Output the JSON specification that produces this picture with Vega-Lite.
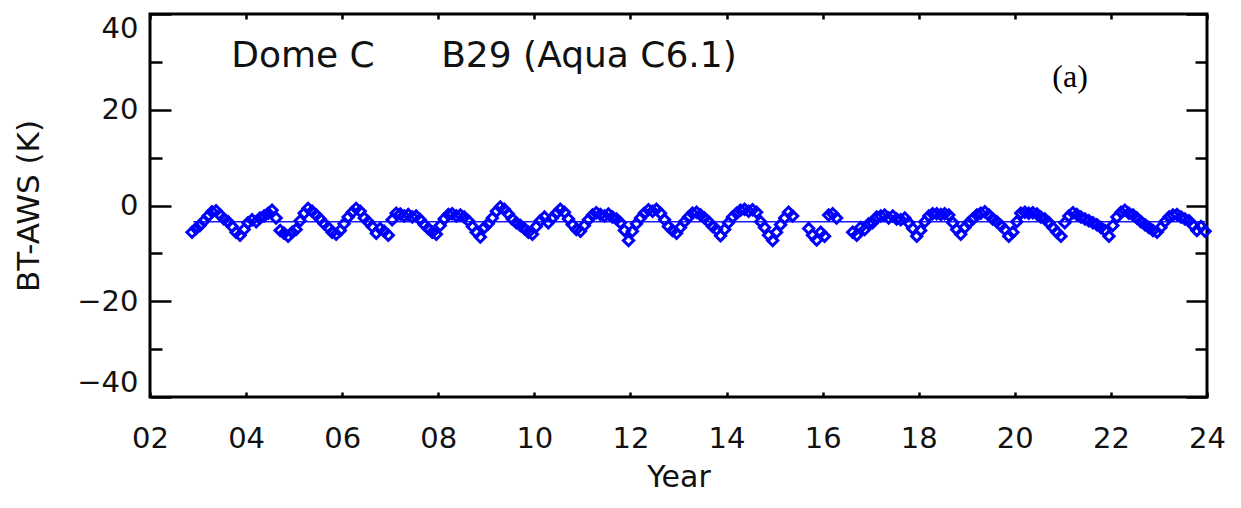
{
  "$schema": "https://vega.github.io/schema/vega-lite/v6.json",
  "autosize": "none",
  "width": 1057,
  "height": 383,
  "padding": {"left": 150, "top": 14, "right": 34, "bottom": 111},
  "background": "white",
  "datasets": {
    "obs": [
      {"t":2002.875,"v":-5.6},{"t":2002.96,"v":-4.8},
      {"t":2003.04,"v":-4.2},{"t":2003.125,"v":-3.2},{"t":2003.21,"v":-2.2},{"t":2003.29,"v":-1.3},{"t":2003.375,"v":-1.1},{"t":2003.46,"v":-2.0},{"t":2003.54,"v":-2.8},{"t":2003.625,"v":-3.4},{"t":2003.71,"v":-4.4},{"t":2003.79,"v":-5.6},{"t":2003.875,"v":-6.2},{"t":2003.96,"v":-5.0},
      {"t":2004.04,"v":-3.6},{"t":2004.125,"v":-3.0},{"t":2004.21,"v":-3.4},{"t":2004.29,"v":-2.6},{"t":2004.375,"v":-2.2},{"t":2004.46,"v":-1.6},{"t":2004.54,"v":-1.0},{"t":2004.625,"v":-2.6},{"t":2004.71,"v":-5.2},{"t":2004.79,"v":-5.8},{"t":2004.875,"v":-6.4},{"t":2004.96,"v":-5.6},
      {"t":2005.04,"v":-5.0},{"t":2005.125,"v":-3.2},{"t":2005.21,"v":-1.6},{"t":2005.29,"v":-0.6},{"t":2005.375,"v":-1.2},{"t":2005.46,"v":-2.0},{"t":2005.54,"v":-2.8},{"t":2005.625,"v":-3.8},{"t":2005.71,"v":-4.6},{"t":2005.79,"v":-5.6},{"t":2005.875,"v":-6.0},{"t":2005.96,"v":-5.2},
      {"t":2006.04,"v":-3.8},{"t":2006.125,"v":-2.4},{"t":2006.21,"v":-1.4},{"t":2006.29,"v":-0.6},{"t":2006.375,"v":-1.2},{"t":2006.46,"v":-2.6},{"t":2006.54,"v":-3.4},{"t":2006.625,"v":-4.4},{"t":2006.71,"v":-5.8},{"t":2006.79,"v":-4.8},{"t":2006.875,"v":-5.4},{"t":2006.96,"v":-6.2},
      {"t":2007.04,"v":-3.0},{"t":2007.125,"v":-1.6},{"t":2007.21,"v":-1.8},{"t":2007.29,"v":-2.2},{"t":2007.375,"v":-1.9},{"t":2007.46,"v":-2.4},{"t":2007.54,"v":-2.2},{"t":2007.625,"v":-3.0},{"t":2007.71,"v":-4.0},{"t":2007.79,"v":-4.8},{"t":2007.875,"v":-5.6},{"t":2007.96,"v":-6.0},
      {"t":2008.04,"v":-4.2},{"t":2008.125,"v":-2.8},{"t":2008.21,"v":-1.9},{"t":2008.29,"v":-1.7},{"t":2008.375,"v":-2.2},{"t":2008.46,"v":-2.0},{"t":2008.54,"v":-2.4},{"t":2008.625,"v":-3.2},{"t":2008.71,"v":-4.4},{"t":2008.79,"v":-5.6},{"t":2008.875,"v":-6.6},{"t":2008.96,"v":-4.6},
      {"t":2009.04,"v":-3.8},{"t":2009.125,"v":-2.6},{"t":2009.21,"v":-1.2},{"t":2009.29,"v":-0.3},{"t":2009.375,"v":-0.8},{"t":2009.46,"v":-1.8},{"t":2009.54,"v":-2.8},{"t":2009.625,"v":-3.6},{"t":2009.71,"v":-4.2},{"t":2009.79,"v":-4.8},{"t":2009.875,"v":-5.6},{"t":2009.96,"v":-6.0},
      {"t":2010.04,"v":-4.4},{"t":2010.125,"v":-3.2},{"t":2010.21,"v":-2.4},{"t":2010.29,"v":-3.6},{"t":2010.375,"v":-2.6},{"t":2010.46,"v":-1.6},{"t":2010.54,"v":-0.8},{"t":2010.625,"v":-1.4},{"t":2010.71,"v":-2.8},{"t":2010.79,"v":-4.0},{"t":2010.875,"v":-5.0},{"t":2010.96,"v":-5.4},
      {"t":2011.04,"v":-4.2},{"t":2011.125,"v":-3.0},{"t":2011.21,"v":-2.0},{"t":2011.29,"v":-1.5},{"t":2011.375,"v":-1.9},{"t":2011.46,"v":-2.2},{"t":2011.54,"v":-1.8},{"t":2011.625,"v":-2.4},{"t":2011.71,"v":-2.8},{"t":2011.79,"v":-3.6},{"t":2011.875,"v":-5.2},{"t":2011.96,"v":-7.3},
      {"t":2012.04,"v":-5.4},{"t":2012.125,"v":-3.8},{"t":2012.21,"v":-2.6},{"t":2012.29,"v":-1.6},{"t":2012.375,"v":-0.9},{"t":2012.46,"v":-1.2},{"t":2012.54,"v":-0.8},{"t":2012.625,"v":-1.6},{"t":2012.71,"v":-3.0},{"t":2012.79,"v":-4.4},{"t":2012.875,"v":-5.2},{"t":2012.96,"v":-5.8},
      {"t":2013.04,"v":-4.6},{"t":2013.125,"v":-3.4},{"t":2013.21,"v":-2.4},{"t":2013.29,"v":-1.6},{"t":2013.375,"v":-1.4},{"t":2013.46,"v":-2.0},{"t":2013.54,"v":-2.6},{"t":2013.625,"v":-3.4},{"t":2013.71,"v":-4.4},{"t":2013.79,"v":-5.0},{"t":2013.875,"v":-6.3},{"t":2013.96,"v":-5.0},
      {"t":2014.04,"v":-3.6},{"t":2014.125,"v":-2.4},{"t":2014.21,"v":-1.6},{"t":2014.29,"v":-1.0},{"t":2014.375,"v":-0.8},{"t":2014.46,"v":-1.2},{"t":2014.54,"v":-0.9},{"t":2014.625,"v":-1.4},{"t":2014.71,"v":-3.4},{"t":2014.79,"v":-4.6},{"t":2014.875,"v":-6.2},{"t":2014.96,"v":-7.3},
      {"t":2015.04,"v":-5.6},{"t":2015.125,"v":-4.0},{"t":2015.21,"v":-2.6},{"t":2015.29,"v":-1.4},{"t":2015.375,"v":-2.2},{"t":2015.71,"v":-4.8},{"t":2015.79,"v":-6.2},{"t":2015.875,"v":-7.2},{"t":2015.96,"v":-5.6},
      {"t":2016.04,"v":-6.4},{"t":2016.125,"v":-2.0},{"t":2016.21,"v":-1.7},{"t":2016.29,"v":-2.6},{"t":2016.625,"v":-5.6},{"t":2016.71,"v":-6.2},{"t":2016.79,"v":-4.6},{"t":2016.875,"v":-5.0},{"t":2016.96,"v":-3.8},
      {"t":2017.04,"v":-3.6},{"t":2017.125,"v":-2.4},{"t":2017.21,"v":-2.2},{"t":2017.29,"v":-2.0},{"t":2017.375,"v":-2.6},{"t":2017.46,"v":-2.2},{"t":2017.54,"v":-2.8},{"t":2017.625,"v":-3.0},{"t":2017.71,"v":-2.6},{"t":2017.79,"v":-3.6},{"t":2017.875,"v":-4.8},{"t":2017.96,"v":-6.4},
      {"t":2018.04,"v":-5.2},{"t":2018.125,"v":-3.4},{"t":2018.21,"v":-2.2},{"t":2018.29,"v":-1.7},{"t":2018.375,"v":-1.7},{"t":2018.46,"v":-1.9},{"t":2018.54,"v":-1.7},{"t":2018.625,"v":-2.0},{"t":2018.71,"v":-3.6},{"t":2018.79,"v":-5.0},{"t":2018.875,"v":-6.0},{"t":2018.96,"v":-4.6},
      {"t":2019.04,"v":-3.6},{"t":2019.125,"v":-2.8},{"t":2019.21,"v":-2.0},{"t":2019.29,"v":-1.6},{"t":2019.375,"v":-1.3},{"t":2019.46,"v":-2.0},{"t":2019.54,"v":-2.8},{"t":2019.625,"v":-3.4},{"t":2019.71,"v":-4.2},{"t":2019.79,"v":-5.0},{"t":2019.875,"v":-6.4},{"t":2019.96,"v":-5.6},
      {"t":2020.04,"v":-3.4},{"t":2020.125,"v":-1.6},{"t":2020.21,"v":-1.4},{"t":2020.29,"v":-1.6},{"t":2020.375,"v":-1.5},{"t":2020.46,"v":-1.8},{"t":2020.54,"v":-2.4},{"t":2020.625,"v":-2.8},{"t":2020.71,"v":-3.6},{"t":2020.79,"v":-4.6},{"t":2020.875,"v":-5.6},{"t":2020.96,"v":-6.4},
      {"t":2021.04,"v":-3.6},{"t":2021.125,"v":-2.2},{"t":2021.21,"v":-1.5},{"t":2021.29,"v":-1.9},{"t":2021.375,"v":-2.4},{"t":2021.46,"v":-2.8},{"t":2021.54,"v":-3.2},{"t":2021.625,"v":-3.6},{"t":2021.71,"v":-4.0},{"t":2021.79,"v":-4.6},{"t":2021.875,"v":-5.2},{"t":2021.96,"v":-6.4},
      {"t":2022.04,"v":-4.2},{"t":2022.125,"v":-2.4},{"t":2022.21,"v":-1.4},{"t":2022.29,"v":-1.0},{"t":2022.375,"v":-1.6},{"t":2022.46,"v":-2.0},{"t":2022.54,"v":-2.6},{"t":2022.625,"v":-3.4},{"t":2022.71,"v":-4.0},{"t":2022.79,"v":-4.6},{"t":2022.875,"v":-5.2},{"t":2022.96,"v":-5.6},
      {"t":2023.04,"v":-4.6},{"t":2023.125,"v":-3.4},{"t":2023.21,"v":-2.4},{"t":2023.29,"v":-2.0},{"t":2023.375,"v":-1.9},{"t":2023.46,"v":-2.4},{"t":2023.54,"v":-2.8},{"t":2023.625,"v":-3.2},{"t":2023.71,"v":-4.2},{"t":2023.79,"v":-5.2},{"t":2023.875,"v":-4.4},{"t":2023.96,"v":-5.4}
    ],
    "fit": [
      {"t":2002.9,"v":-3.4},
      {"t":2023.96,"v":-3.4}
    ]
  },
  "layer": [
    {
      "data": {"name": "fit"},
      "mark": {"type": "line", "color": "#1a1aff", "strokeWidth": 1.5},
      "encoding": {
        "x": {"field": "t", "type": "quantitative", "scale": {"domain": [2002, 2024], "nice": false, "zero": false},
              "axis": {"orient": "bottom", "values": [2002,2004,2006,2008,2010,2012,2014,2016,2018,2020,2022,2024], "labels": false, "domain": false, "grid": false, "ticks": true, "tickSize": -5, "title": null}},
        "y": {"field": "v", "type": "quantitative", "scale": {"domain": [-40, 40], "nice": false, "zero": false},
              "axis": {"orient": "left", "values": [-40,-20,0,20,40], "labels": false, "domain": false, "grid": false, "ticks": true, "tickSize": -21, "title": null}}
      }
    },
    {
      "data": {"name": "obs"},
      "mark": {"type": "point", "shape": "diamond", "filled": false, "color": "#0000ff", "size": 105, "strokeWidth": 3, "opacity": 1},
      "encoding": {
        "x": {"field": "t", "type": "quantitative",
              "axis": {"orient": "bottom", "values": [2002,2004,2006,2008,2010,2012,2014,2016,2018,2020,2022,2024], "ticks": false, "domain": false, "grid": false,
                       "labelExpr": "(datum.value - 2000 < 10 ? '0' : '') + (datum.value - 2000)",
                       "labelPadding": 27, "labelFontSize": 29, "labelFlush": false, "labelOverlap": false,
                       "title": "Year", "titleFontSize": 30, "titleFontWeight": "normal", "titlePadding": 9}},
        "y": {"field": "v", "type": "quantitative",
              "axis": {"orient": "left", "values": [-40,-20,0,20,40], "ticks": false, "domain": false, "grid": false,
                       "labelPadding": 12, "labelFontSize": 29, "labelOverlap": false, "labelFlush": true, "labelFlushOffset": 0,
                       "title": "BT-AWS (K)", "titleFontSize": 31, "titleFontWeight": "normal", "titlePadding": 31}}
      }
    },
    {
      "data": {"name": "fit"},
      "mark": {"type": "line", "opacity": 0},
      "encoding": {
        "x": {"field": "t", "type": "quantitative",
              "axis": {"orient": "top", "values": [2002,2004,2006,2008,2010,2012,2014,2016,2018,2020,2022,2024], "labels": false, "domain": false, "grid": false, "ticks": true, "tickSize": -5, "title": null}},
        "y": {"field": "v", "type": "quantitative",
              "axis": {"orient": "right", "values": [-40,-20,0,20,40], "labels": false, "domain": false, "grid": false, "ticks": true, "tickSize": -21, "title": null}}
      }
    },
    {
      "data": {"name": "fit"},
      "mark": {"type": "line", "opacity": 0},
      "encoding": {
        "x": {"field": "t", "type": "quantitative", "axis": null},
        "y": {"field": "v", "type": "quantitative",
              "axis": {"orient": "left", "values": [-30,-10,10,30], "labels": false, "domain": false, "grid": false, "ticks": true, "tickSize": -12, "title": null}}
      }
    },
    {
      "data": {"name": "fit"},
      "mark": {"type": "line", "opacity": 0},
      "encoding": {
        "x": {"field": "t", "type": "quantitative", "axis": null},
        "y": {"field": "v", "type": "quantitative",
              "axis": {"orient": "right", "values": [-30,-10,10,30], "labels": false, "domain": false, "grid": false, "ticks": true, "tickSize": -12, "title": null}}
      }
    },
    {
      "data": {"values": [{"label": "Dome C"}]},
      "mark": {"type": "text", "align": "left", "baseline": "middle", "font": "DejaVu Sans", "fontSize": 36, "color": "#111"},
      "encoding": {
        "x": {"datum": 2003.69, "type": "quantitative", "axis": null},
        "y": {"datum": 31.3, "type": "quantitative", "axis": null},
        "text": {"field": "label"}
      }
    },
    {
      "data": {"values": [{"label": "B29 (Aqua C6.1)"}]},
      "mark": {"type": "text", "align": "left", "baseline": "middle", "font": "DejaVu Sans", "fontSize": 36, "color": "#111"},
      "encoding": {
        "x": {"datum": 2008.06, "type": "quantitative", "axis": null},
        "y": {"datum": 31.3, "type": "quantitative", "axis": null},
        "text": {"field": "label"}
      }
    },
    {
      "data": {"values": [{"label": "(a)"}]},
      "mark": {"type": "text", "align": "center", "baseline": "middle", "font": "Liberation Serif", "fontSize": 32, "color": "#000"},
      "encoding": {
        "x": {"datum": 2021.15, "type": "quantitative", "axis": null},
        "y": {"datum": 26.9, "type": "quantitative", "axis": null},
        "text": {"field": "label"}
      }
    }
  ],
  "resolve": {"axis": {"x": "independent", "y": "independent"}},
  "config": {
    "view": {"stroke": "black", "strokeWidth": 3},
    "axis": {"labelFont": "DejaVu Sans", "titleFont": "DejaVu Sans", "labelColor": "#111", "titleColor": "#111", "tickColor": "black", "tickWidth": 2.5}
  }
}
